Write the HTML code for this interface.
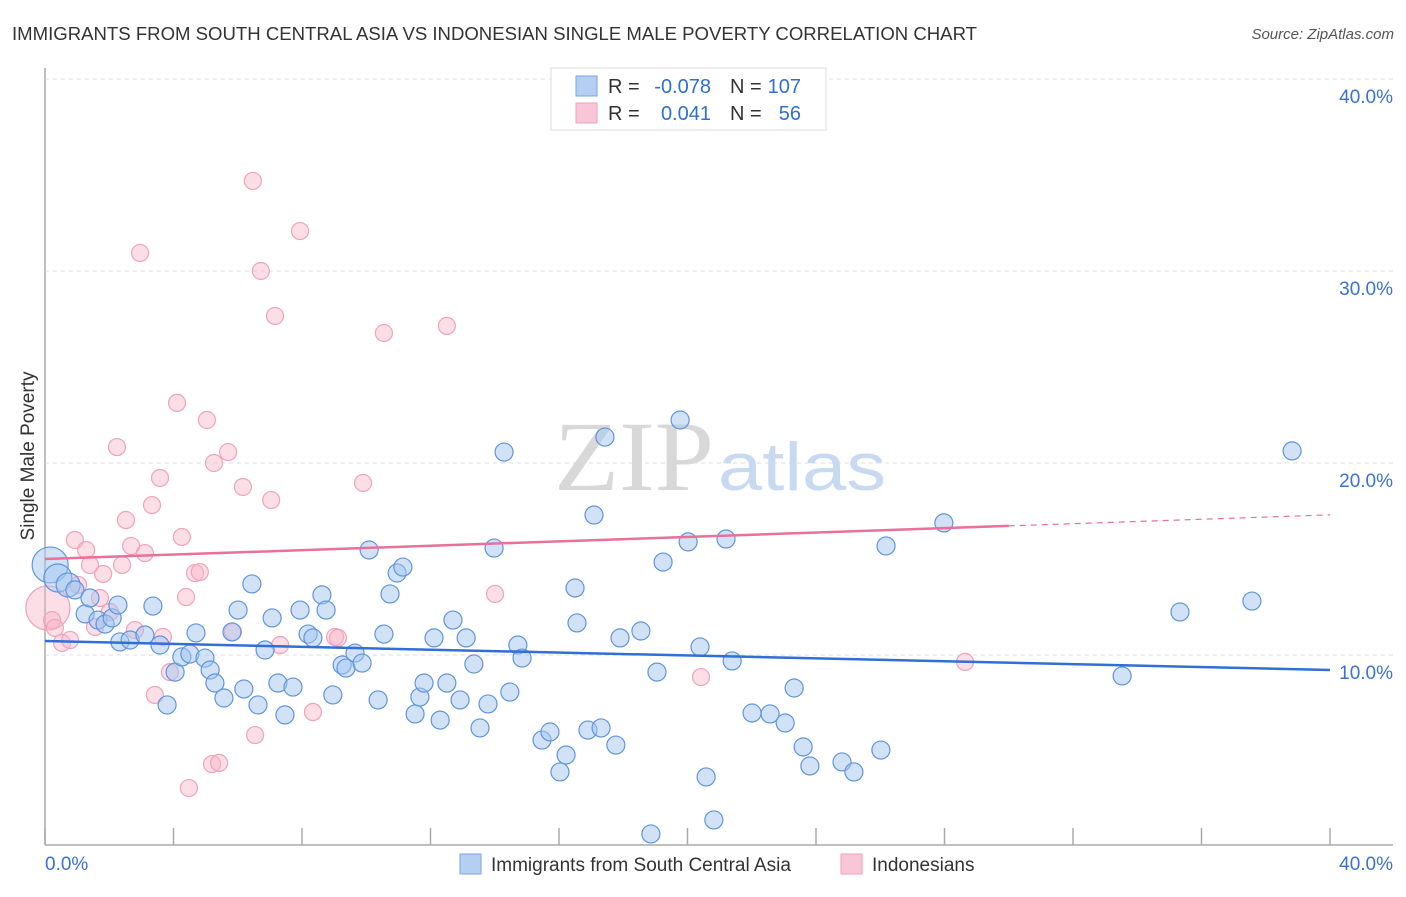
<!DOCTYPE html>
<html><head><meta charset="utf-8"><style>
body{margin:0;background:#fff;font-family:"Liberation Sans",sans-serif;}
</style></head><body>
<svg width="1406" height="892" style="font-family:'Liberation Sans',sans-serif">
<text x="12" y="40" font-size="18" fill="#333" textLength="965" lengthAdjust="spacingAndGlyphs">IMMIGRANTS FROM SOUTH CENTRAL ASIA VS INDONESIAN SINGLE MALE POVERTY CORRELATION CHART</text>
<text x="1394" y="39" font-size="15" fill="#555" text-anchor="end" font-style="italic">Source: ZipAtlas.com</text>
<g id="grid"></g>
<text x="714" y="490" font-size="100" fill="#d8d8d8" text-anchor="end" style="font-family:'Liberation Serif',serif" textLength="160" lengthAdjust="spacingAndGlyphs">ZIP</text>
<text x="718" y="490" font-size="68" fill="#c8daf2" textLength="168" lengthAdjust="spacingAndGlyphs">atlas</text>
<g id="pts"></g>
<g id="lines"></g>
<text transform="translate(34,456) rotate(-90)" font-size="19" fill="#333" text-anchor="middle">Single Male Poverty</text>
<g>
<rect x="551" y="68" width="275" height="62" fill="#fff" stroke="#ddd"/>
<rect x="576" y="76" width="21" height="20" fill="#b4cff2" stroke="#7aa6e4"/>
<rect x="576" y="103" width="21" height="20" fill="#f8c6d6" stroke="#f0a0b8"/>
<text x="608" y="93" font-size="20" fill="#333">R =</text><text x="711" y="93" font-size="20" fill="#2f6fd6" text-anchor="end">-0.078</text>
<text x="730" y="93" font-size="20" fill="#333">N =</text><text x="801" y="93" font-size="20" fill="#2f6fd6" text-anchor="end">107</text>
<text x="608" y="120" font-size="20" fill="#333">R =</text><text x="711" y="120" font-size="20" fill="#2f6fd6" text-anchor="end">0.041</text>
<text x="730" y="120" font-size="20" fill="#333">N =</text><text x="801" y="120" font-size="20" fill="#2f6fd6" text-anchor="end">56</text>
</g>
<g>
<rect x="460" y="854" width="21" height="20" fill="#b4cff2" stroke="#7aa6e4"/>
<text x="491" y="871" font-size="19" fill="#333">Immigrants from South Central Asia</text>
<rect x="841" y="854" width="21" height="20" fill="#f8c6d6" stroke="#f0a0b8"/>
<text x="872" y="871" font-size="19" fill="#333">Indonesians</text>
</g>
</svg>
<script>
const blueX=[0.16,0.40,0.72,0.93,1.25,1.40,1.65,1.87,2.09,2.27,2.33,2.65,3.11,3.36,3.58,3.80,4.05,4.26,4.51,4.70,4.98,5.14,5.29,5.57,5.82,6.01,6.19,6.44,6.63,6.85,7.07,7.25,7.47,7.72,7.94,8.19,8.34,8.62,8.75,8.96,9.25,9.37,9.65,9.87,10.09,10.37,10.55,10.74,10.96,11.14,11.52,11.67,11.80,12.11,12.30,12.51,12.70,12.92,13.11,13.35,13.54,13.79,13.98,14.29,14.47,14.72,14.85,15.47,15.72,16.03,16.22,16.50,16.56,16.90,17.09,17.31,17.43,17.77,17.90,18.55,18.86,19.05,19.24,19.77,20.02,20.39,20.58,20.82,21.20,21.39,22.01,22.57,23.04,23.32,23.60,23.81,24.81,25.18,26.02,26.18,27.98,33.53,35.33,37.57,38.82];
const blueY=[14.69,14.01,13.65,13.39,12.14,12.97,11.82,11.61,11.93,12.60,10.68,10.78,11.04,12.55,10.52,7.40,9.11,9.90,10.05,11.15,9.84,9.22,8.54,7.76,11.20,12.34,8.23,13.70,7.40,10.26,11.93,8.54,6.88,8.33,12.34,11.09,10.89,13.13,12.34,7.92,9.48,9.32,10.10,9.58,15.47,7.66,11.09,13.18,14.27,14.58,6.93,7.81,8.54,10.89,6.61,8.54,11.82,7.66,10.89,9.53,6.20,7.45,15.57,20.57,8.07,10.52,9.84,5.57,5.99,3.91,4.79,13.49,11.67,6.09,17.29,6.20,21.35,5.31,10.89,11.25,0.68,9.11,14.84,22.24,15.89,10.42,3.65,1.41,16.04,9.69,6.98,6.93,6.46,8.28,5.21,4.22,4.43,3.91,5.05,15.68,16.88,8.91,12.24,12.81,20.63];
const blueSize=[18,14,12];
const pinkX=[0.09,0.22,0.31,0.53,0.78,0.93,1.03,1.28,1.40,1.56,1.71,1.81,2.02,2.24,2.40,2.52,2.68,2.80,2.96,3.11,3.33,3.42,3.58,3.67,3.89,4.11,4.26,4.39,4.48,4.67,4.82,5.04,5.20,5.26,5.42,5.70,5.85,6.16,6.47,6.54,6.72,7.04,7.16,7.32,7.94,8.34,9.03,9.12,9.90,10.55,12.51,14.01,20.42,28.64];
const pinkY=[12.45,11.82,11.41,10.63,10.78,15.99,13.65,15.47,14.69,11.46,12.97,14.22,12.24,20.83,14.69,17.03,15.68,11.30,30.94,15.31,17.81,7.92,19.22,10.94,9.11,23.13,16.15,13.02,3.07,14.27,14.32,22.24,4.32,20.0,4.38,20.57,11.20,18.75,34.69,5.83,30.0,18.07,27.66,10.52,32.08,7.03,10.94,10.89,18.96,26.77,27.14,13.18,8.85,9.64];
const pinkSize=[22];
const yTicks=[10,20,30,40];
const xTicks=[0,4,8,12,16,20,24,28,32,36,40];
const blueTrend=[10.73,9.22];
const pinkTrend=[15.0,17.3];
const pinkTrendEnd=30;

const NS='http://www.w3.org/2000/svg';
const X=v=>45+v*32.125, Y=v=>847-v*19.2;
function mk(t,a,p){const e=document.createElementNS(NS,t);for(const k in a)e.setAttribute(k,a[k]);p.appendChild(e);return e;}
const grid=document.getElementById('grid');
const ax=mk('line',{x1:45,y1:68,x2:45,y2:845,stroke:'#aaa','stroke-width':1.5},grid);


const bx=mk('line',{x1:45,y1:845,x2:1393,y2:845,stroke:'#aaa','stroke-width':1.5},grid);


yTicks.forEach(t=>{
  const g=mk('line',{x1:45,y1:Y(t),x2:1393,y2:Y(t),stroke:'#ddd','stroke-dasharray':'4,4'},grid);
  
  
  const l=mk('text',{x:1393,y:Y(t)+24,'font-size':19,fill:'#3a72d0','text-anchor':'end'},grid);
  l.textContent=t.toFixed(1)+'%';
  
  
});
xTicks.forEach(t=>{
  const k=mk('line',{x1:X(t),y1:828,x2:X(t),y2:845,stroke:'#aaa','stroke-width':1.5},grid);
  
  
});
[[0,'start',45],[40,'end',1393]].forEach(([v,a,x])=>{
  const l=mk('text',{x:x,y:870,'font-size':19,fill:'#3a72d0','text-anchor':a},grid);
  l.textContent=v.toFixed(1)+'%';
  
  
});
const pts=document.getElementById('pts');
pinkX.forEach((x,i)=>{
  const c=mk('circle',{cx:X(x),cy:Y(pinkY[i]),r:pinkSize[i]||8.5,fill:'rgba(248,182,202,0.45)',stroke:'#f0a3bb','stroke-width':1.2},pts);
  
  
});
blueX.forEach((x,i)=>{
  const c=mk('circle',{cx:X(x),cy:Y(blueY[i]),r:blueSize[i]||9,fill:'rgba(164,198,240,0.5)',stroke:'#5f95dd','stroke-width':1.2},pts);
  
  
});
const ln=document.getElementById('lines');
const b=mk('line',{x1:X(0),y1:Y(blueTrend[0]),x2:X(40),y2:Y(blueTrend[1]),stroke:'#2f6fd6','stroke-width':2.5},ln);


const pm=pinkTrend[0]+(pinkTrend[1]-pinkTrend[0])*pinkTrendEnd/40;
const p=mk('line',{x1:X(0),y1:Y(pinkTrend[0]),x2:X(pinkTrendEnd),y2:Y(pm),stroke:'#e8709a','stroke-width':2.5},ln);


const pd=mk('line',{x1:X(pinkTrendEnd),y1:Y(pm),x2:X(40),y2:Y(pinkTrend[1]),stroke:'#e8709a','stroke-width':1.2,'stroke-dasharray':'6,5'},ln);


</script>
</body></html>
